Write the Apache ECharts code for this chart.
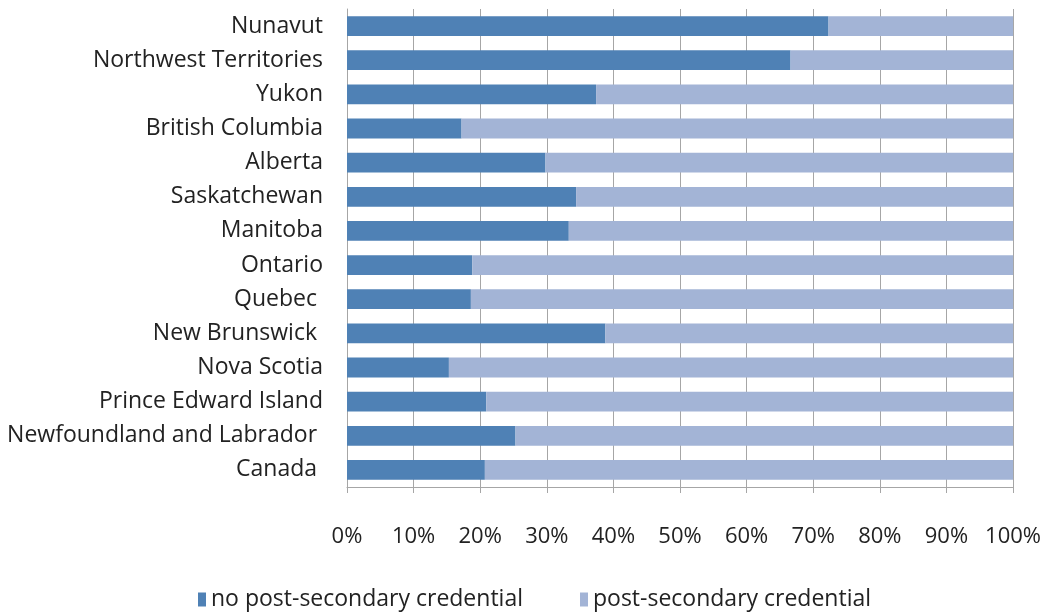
<!DOCTYPE html>
<html>
<head>
<meta charset="utf-8">
<script src="https://cdn.jsdelivr.net/npm/echarts@6/dist/echarts.min.js"></script>
<style>
  html, body { margin: 0; padding: 0; background: #fff; }
  #main { width: 1044px; height: 614px; }
</style>
</head>
<body>
<div id="main"></div>
<script>
// categories listed bottom to top (category axis starts at the bottom)
var regions = [
  'Canada ',
  'Newfoundland and Labrador ',
  'Prince Edward Island',
  'Nova Scotia',
  'New Brunswick ',
  'Quebec ',
  'Ontario',
  'Manitoba',
  'Saskatchewan',
  'Alberta',
  'British Columbia',
  'Yukon',
  'Northwest Territories',
  'Nunavut'
]
// share without a post-secondary credential, %
var noCredential = [20.7, 25.3, 20.9, 15.3, 38.8, 18.6, 18.8, 33.3, 34.4, 29.8, 17.2, 37.4, 66.6, 72.3]
var withCredential = noCredential.map(function (v) { return +(100 - v).toFixed(1) })
var seriesNames = ['no post-secondary credential', 'post-secondary credential']

var chart = echarts.init(document.getElementById('main'))
var fontFamily = 'Open Sans'
chart.setOption({
  animation: false,
  textStyle: { fontFamily: fontFamily },
  grid: { left: 347, right: 30, top: 9, bottom: 127 },
  legend: {
    data: seriesNames,
    bottom: -2,
    left: 193,
    icon: 'rect',
    itemWidth: 8,
    itemHeight: 14,
    itemGap: 57,
    textStyle: { fontSize: 23, color: '#222', fontFamily: fontFamily }
  },
  xAxis: {
    type: 'value',
    min: 0,
    max: 100,
    interval: 10,
    axisLine: { show: true, lineStyle: { color: '#a6a6a6' } },
    axisTick: { show: true, length: 6, lineStyle: { color: '#a6a6a6' } },
    splitLine: { show: true, lineStyle: { color: '#a6a6a6', width: 1 } },
    axisLabel: {
      margin: 39,
      fontSize: 22,
      color: '#222',
      formatter: '{value}%'
    }
  },
  yAxis: {
    type: 'category',
    data: regions,
    axisLine: { show: true, lineStyle: { color: '#a6a6a6' } },
    axisTick: { show: false },
    axisLabel: { fontSize: 23, color: '#222', margin: 24, padding: [9, 0, 0, 0] }
  },
  series: [{
    name: seriesNames[0],
    type: 'bar',
    stack: 'total',
    barCategoryGap: '42%',
    itemStyle: { color: '#4f81b5' },
    data: noCredential
  }, {
    name: seriesNames[1],
    type: 'bar',
    stack: 'total',
    barCategoryGap: '42%',
    itemStyle: { color: '#a3b4d6' },
    data: withCredential
  }]
})
</script>
</body>
</html>
